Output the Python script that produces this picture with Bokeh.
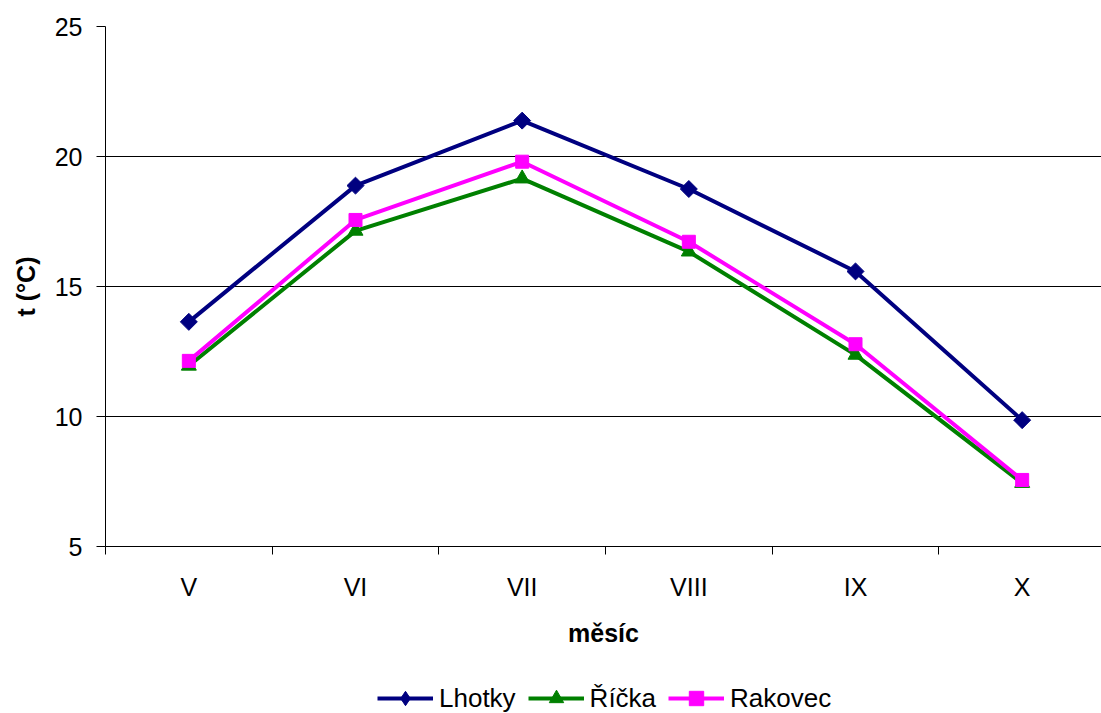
import math
from bokeh.plotting import figure
from bokeh.layouts import column
from bokeh.models import Range1d, FixedTicker, Legend, LegendItem
from bokeh.embed import file_html
from bokeh.resources import INLINE

months = ["V", "VI", "VII", "VIII", "IX", "X"]
lhotky = [13.64, 18.88, 21.38, 18.75, 15.58, 9.86]
ricka = [11.95, 17.14, 19.15, 16.34, 12.37, 7.44]
rakovec = [12.14, 17.56, 19.80, 16.72, 12.78, 7.56]
y_ticks = [5, 10, 15, 20, 25]
series_names = ["Lhotky", "Říčka", "Rakovec"]

FONT = "Liberation Sans"
FS = "25px"
xs = [i + 0.5 for i in range(len(months))]

p = figure(frame_width=996, frame_height=520, output_backend="svg", toolbar_location=None,
           x_range=Range1d(0, 5.976), y_range=Range1d(5, 25),
           min_border_left=105, min_border_right=0, min_border_top=26, min_border_bottom=114)
p.outline_line_color = None
p.background_fill_color = "white"
p.border_fill_color = "white"

# axes
p.xaxis.ticker = FixedTicker(ticks=xs, minor_ticks=[0, 1, 2, 3, 4, 5])
p.xaxis.major_label_overrides = {x: m for x, m in zip(xs, months)}
p.xaxis.major_tick_out = 0
p.xaxis.major_tick_in = 0
p.xaxis.minor_tick_out = 8
p.xaxis.minor_tick_in = 0
p.xaxis.minor_tick_line_color = "black"
p.xaxis.major_label_standoff = 18
p.xaxis.axis_label = "měsíc"
p.xaxis.axis_label_standoff = 15

p.yaxis.ticker = FixedTicker(ticks=y_ticks)
p.yaxis.major_tick_out = 9
p.yaxis.major_tick_in = 0
p.yaxis.minor_tick_line_color = None
p.yaxis.major_label_standoff = 14
p.yaxis.axis_label = "t (°C)"
p.yaxis.axis_label_standoff = 12

for ax in (p.xaxis, p.yaxis):
    ax.axis_line_color = "black"
    ax.axis_line_width = 1
    ax.major_tick_line_color = "black"
    ax.major_label_text_font = FONT
    ax.major_label_text_font_size = FS
    ax.major_label_text_color = "black"
    ax.axis_label_text_font = FONT
    ax.axis_label_text_font_size = FS
    ax.axis_label_text_font_style = "bold"
    ax.axis_label_text_color = "black"

p.xgrid.grid_line_color = None
p.ygrid.ticker = FixedTicker(ticks=y_ticks)
p.ygrid.grid_line_color = "#000000"
p.ygrid.grid_line_width = 1

styles = [
    dict(color="#000080", marker="square", angle=math.pi / 4, size=12, lmarker="diamond", lsize=17),
    dict(color="#008000", marker="triangle", angle=0.0, size=15, lmarker="triangle", lsize=15),
    dict(color="#FF00FF", marker="square", angle=0.0, size=13, lmarker="square", lsize=13),
]
data = [lhotky, ricka, rakovec]

for vals, st in zip(data, styles):
    p.line(xs, vals, line_color=st["color"], line_width=4)
    p.scatter(xs, vals, marker=st["marker"], angle=st["angle"], size=st["size"],
              fill_color=st["color"], line_color=st["color"])

# legend strip below the chart (its renderers hold one off-screen point each,
# only so that the legend has glyphs to draw)
lg = figure(width=1101, height=76, output_backend="svg", toolbar_location=None,
            x_axis_type=None, y_axis_type=None, x_range=Range1d(0, 1), y_range=Range1d(0, 1),
            min_border_left=0, min_border_right=0, min_border_top=0, min_border_bottom=0)
lg.outline_line_color = None
lg.xgrid.grid_line_color = None
lg.ygrid.grid_line_color = None
items = []
for name, st in zip(series_names, styles):
    rl = lg.line([-10, -9], [-10, -10], line_color=st["color"], line_width=4)
    rm = lg.scatter([-10], [-10], marker=st["lmarker"], size=st["lsize"],
                    fill_color=st["color"], line_color=st["color"])
    items.append(LegendItem(label=name, renderers=[rl, rm]))

legend = Legend(items=items, orientation="horizontal", location=(272, 20))
legend.label_text_font = FONT
legend.label_text_font_size = "26px"
legend.label_text_color = "black"
legend.glyph_width = 56
legend.glyph_height = 36
legend.label_standoff = 6
legend.spacing = 12
legend.padding = 0
legend.margin = 0
legend.border_line_color = None
legend.background_fill_alpha = 0
lg.add_layout(legend, "center")

layout = column(p, lg, spacing=0)
open("out.html", "w").write(file_html(layout, INLINE))
